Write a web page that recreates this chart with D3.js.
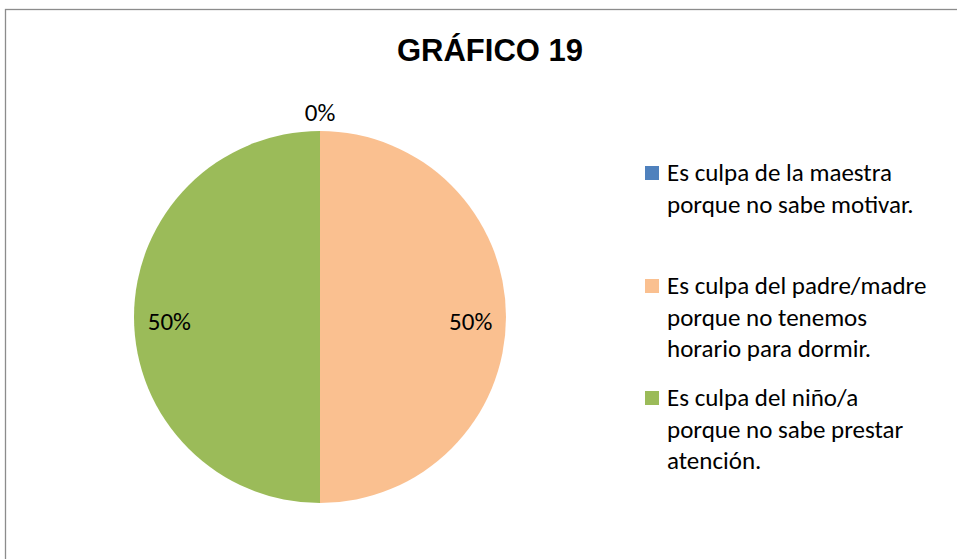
<!DOCTYPE html>
<html>
<head>
<meta charset="utf-8">
<script src="https://cdn.jsdelivr.net/npm/d3@7"></script>
<style>
  body { margin: 0; background: #fff; }
  svg text { font-family: "Carlito", "Lato", "Open Sans", sans-serif; fill: #000; }
</style>
</head>
<body>
<div id="chart"></div>
<script>
// chart data
const title = "GRÁFICO 19";
const categories = [
    ["Es culpa de la maestra", "porque no sabe motivar."],
    ["Es culpa del padre/madre", "porque no tenemos", "horario para dormir."],
    ["Es culpa del niño/a", "porque no sabe prestar", "atención."]
];
const values = [0, 50, 50];
const labels = ["0%", "50%", "50%"];
const colors = ["#4F81BD", "#FAC090", "#9BBB59"];

const width = 957, height = 559;
const svg = d3.select("#chart").append("svg")
    .attr("width", width)
    .attr("height", height);

// outer frame (right and bottom edges fall outside the view)
svg.append("rect")
    .attr("x", 5.5).attr("y", 9.5)
    .attr("width", 1000).attr("height", 600)
    .attr("fill", "none")
    .attr("stroke", "#8c8c8c")
    .attr("stroke-width", 1.3);

svg.append("text")
    .attr("x", 490).attr("y", 61)
    .attr("text-anchor", "middle")
    .style("font-family", "'Liberation Sans', Arial, sans-serif")
    .style("font-weight", "bold")
    .style("font-size", "31px")
    .text(title);

// pie
const cx = 320, cy = 317, r = 186;
const pie = d3.pie().sort(null).value(d => d);
const arcs = pie(values);
const arc = d3.arc().innerRadius(0).outerRadius(r);

const g = svg.append("g").attr("transform", `translate(${cx},${cy})`);
g.selectAll("path")
    .data(arcs)
    .enter().append("path")
    .attr("d", arc)
    .attr("fill", (d, i) => colors[i]);

// data labels: zero slice goes above the pie, others near the rim
g.selectAll("text.lbl")
    .data(arcs)
    .enter().append("text")
    .attr("class", "lbl")
    .attr("x", d => d.value === 0 ? 0 : arc.centroid(d)[0] * 1.62)
    .attr("y", d => d.value === 0 ? -r - 10 : arc.centroid(d)[1] + 13)
    .attr("text-anchor", "middle")
    .style("font-size", "25px")
    .text((d, i) => labels[i]);

// legend
const legendTops = [181, 294, 406];
const lineH = 31.5;
const legend = svg.append("g");
categories.forEach((lines, i) => {
    legend.append("rect")
        .attr("x", 645).attr("y", legendTops[i] - 15)
        .attr("width", 14).attr("height", 14)
        .attr("fill", colors[i]);
    const t = legend.append("text")
        .attr("x", 667).attr("y", legendTops[i])
        .style("font-size", "25px");
    lines.forEach((s, j) => {
        t.append("tspan")
            .attr("x", 667)
            .attr("y", legendTops[i] + j * lineH)
            .text(s);
    });
});
</script>
</body>
</html>
